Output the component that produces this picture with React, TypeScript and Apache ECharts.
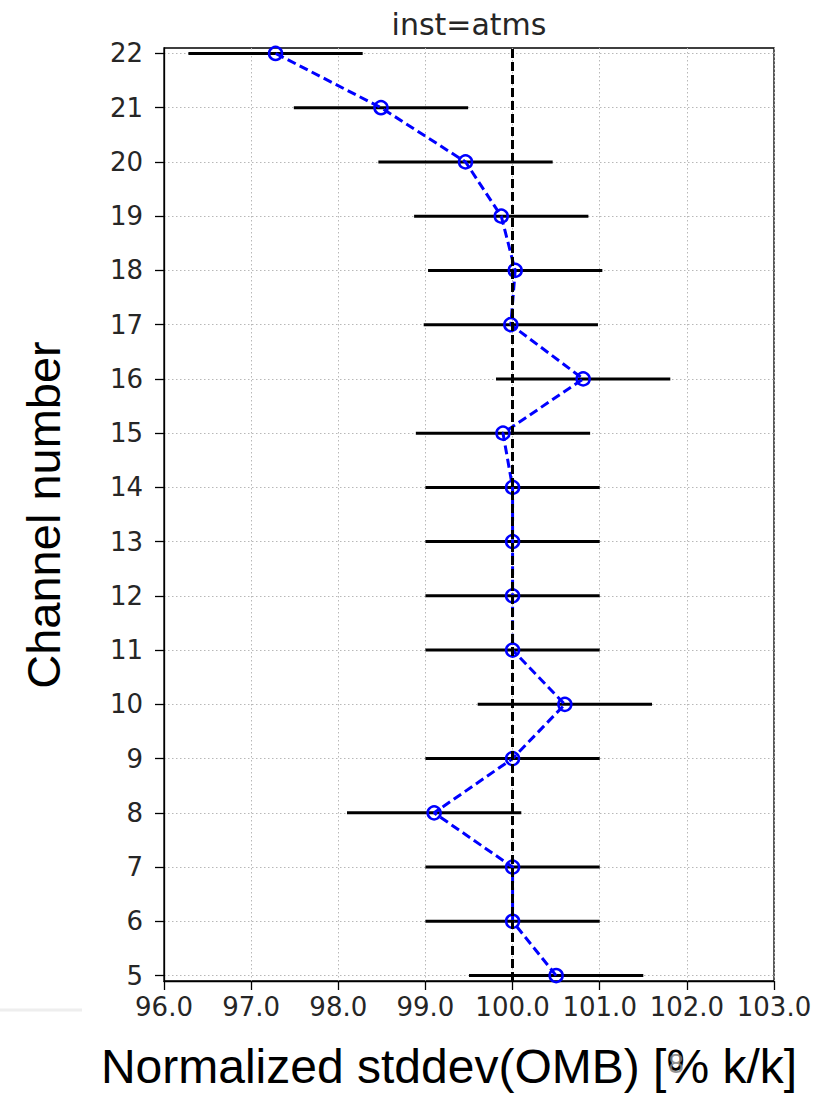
import React, { useEffect, useRef } from "react";
import * as echarts from "echarts";

const channels = [5, 6, 7, 8, 9, 10, 11, 12, 13, 14, 15, 16, 17, 18, 19, 20, 21, 22];
const stddevValues = [100.5, 100.0, 100.0, 99.1, 100.0, 100.6, 100.0, 100.0, 100.0, 100.0, 99.89, 100.81, 99.98, 100.03, 99.87, 99.46, 98.49, 97.28];
const errorHalfWidths = [1.0, 1.0, 1.0, 1.0, 1.0, 1.0, 1.0, 1.0, 1.0, 1.0, 1.0, 1.0, 1.0, 1.0, 1.0, 1.0, 1.0, 1.0];
const referenceValue = 100;
const titleText = "inst=atms";
const yName = "Channel number";
const xName = "Normalized stddev(OMB) [% k/k]";

export default function App() {
  const ref = useRef<HTMLDivElement>(null);
  useEffect(() => {
    document.body.style.margin = "0";
    const chart = echarts.init(ref.current!, null, { renderer: "svg" });
    const lineData = channels.map((c, i) => [stddevValues[i], c]);
    const errData = channels.map((c, i) => [stddevValues[i], c, errorHalfWidths[i]]);
    const tickFont = { fontFamily: "DejaVu Sans", fontSize: 26, color: "#262626" };
    chart.setOption({
      animation: false,
      grid: {
        left: 164,
        top: 48,
        width: 610,
        height: 933,
        show: true,
        borderColor: "#000",
        borderWidth: 1.3,
        backgroundColor: "transparent",
      },
      xAxis: {
        type: "value",
        min: 96,
        max: 103,
        interval: 1,
        axisLine: { show: true, lineStyle: { color: "#000", width: 1.3 } },
        axisTick: { show: true, length: 9, lineStyle: { color: "#000", width: 1.3 } },
        axisLabel: { ...tickFont, margin: 13, formatter: (v: number) => v.toFixed(1) },
        splitLine: { show: true, lineStyle: { color: "#b8b8b8", width: 1, type: [1.5, 2.5] } },
      },
      yAxis: {
        type: "value",
        min: 4.9,
        max: 22.1,
        axisLine: { show: true, lineStyle: { color: "#000", width: 1.3 } },
        axisTick: { show: true, length: 9, customValues: channels, lineStyle: { color: "#000", width: 1.3 } },
        axisLabel: { ...tickFont, margin: 21, customValues: channels },
        splitLine: { show: true, lineStyle: { color: "#b8b8b8", width: 1, type: [1.5, 2.5] } },
      },
      series: [
        {
          type: "custom",
          data: errData,
          encode: { x: 0, y: 1 },
          z: 2,
          renderItem: (params: any, api: any) => {
            const x = api.value(0);
            const y = api.value(1);
            const e = api.value(2);
            const lo = api.coord([x - e, y]);
            const hi = api.coord([x + e, y]);
            return {
              type: "line",
              shape: { x1: lo[0], y1: lo[1], x2: hi[0], y2: hi[1] },
              style: { stroke: "#000", lineWidth: 3 },
            };
          },
          markLine: {
            silent: true,
            symbol: "none",
            label: { show: false },
            lineStyle: { color: "#000", width: 3, type: [9, 4] },
            data: [{ xAxis: referenceValue }],
          },
        },
        {
          type: "line",
          data: lineData,
          z: 3,
          symbol: "circle",
          symbolSize: 13,
          showSymbol: true,
          lineStyle: { color: "#0000ff", width: 3, type: [9, 4.5] },
          itemStyle: { color: "none", borderColor: "#0000ff", borderWidth: 2.5 },
        },
      ],
      graphic: [
        {
          type: "text",
          x: 469,
          y: 24,
          style: {
            text: titleText,
            font: '30px "DejaVu Sans"',
            fill: "#262626",
            align: "center",
            verticalAlign: "middle",
          },
        },
        {
          type: "text",
          x: 43,
          y: 515,
          rotation: Math.PI / 2,
          style: {
            text: yName,
            font: '47px "Liberation Sans", Arial',
            fill: "#000",
            align: "center",
            verticalAlign: "middle",
          },
        },
        {
          type: "text",
          x: 449,
          y: 1066,
          style: {
            text: xName,
            font: '48px "Liberation Sans", Arial',
            fill: "#000",
            align: "center",
            verticalAlign: "middle",
          },
        },
        {
          type: "text",
          x: 676,
          y: 1063,
          z: 10,
          style: {
            text: "8",
            font: '28px "Liberation Sans", Arial',
            fill: "#7f7f7f",
            opacity: 0.85,
            align: "center",
            verticalAlign: "middle",
          },
        },
        {
          type: "line",
          shape: { x1: 0, y1: 1010, x2: 82, y2: 1010 },
          style: { stroke: "#eeeeee", lineWidth: 3 },
        },
      ],
    });
    return () => chart.dispose();
  }, []);
  return <div ref={ref} style={{ width: 815, height: 1099 }} />;
}
